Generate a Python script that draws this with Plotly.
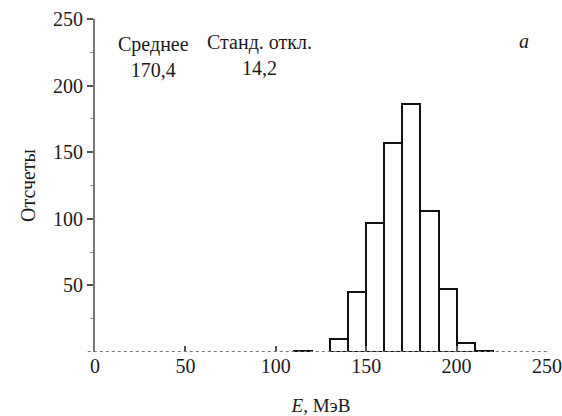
import plotly.graph_objects as go

bin_left = [110, 130, 140, 150, 160, 170, 180, 190, 200, 210]
counts = [1, 10, 45, 97, 157, 186, 106, 47, 7, 1]
bin_width = 10
x_ticks = [0, 50, 100, 150, 200, 250]
y_ticks = [50, 100, 150, 200, 250]

centers = [b + bin_width / 2 for b in bin_left]
FONT = "Times New Roman"
FS = 20
TXT = "#1a1a1a"

fig = go.Figure()
fig.add_trace(go.Bar(
    x=centers, y=counts, width=bin_width,
    marker=dict(color="white", line=dict(color="#111111", width=2)),
    showlegend=False, hoverinfo="skip",
))

fig.update_layout(
    width=562, height=416,
    margin=dict(l=95, r=15, t=19, b=64, autoexpand=False),
    paper_bgcolor="white", plot_bgcolor="white",
    font=dict(family=FONT, size=FS, color=TXT),
    bargap=0,
    xaxis=dict(
        range=[0, 250], tickvals=x_ticks, ticks="inside", ticklen=6,
        tickcolor="#555555", tickwidth=1.5, showline=False, showgrid=False,
        zeroline=False, tickfont=dict(family=FONT, size=FS, color=TXT), automargin=False,
        title=dict(text="<i>E</i>, МэВ", font=dict(family=FONT, size=19, color=TXT), standoff=25),
    ),
    yaxis=dict(
        range=[0, 250], tickvals=y_ticks, ticks="outside", ticklen=6,
        tickcolor="#555555", tickwidth=1.5, showline=True, linecolor="#777777",
        linewidth=2, showgrid=False, zeroline=False, automargin=False,
        minor=dict(tickvals=[25, 75, 125, 175, 225], ticks="outside", ticklen=3,
                   tickcolor="#888888", tickwidth=1),
        tickfont=dict(family=FONT, size=FS, color=TXT),
        title=dict(text="Отсчеты", font=dict(family=FONT, size=FS, color=TXT), standoff=12),
    ),
)

# dashed x baseline
fig.add_shape(type="line", xref="paper", yref="y", x0=-0.016, x1=1.0, y0=0, y1=0,
              line=dict(color="#777777", width=2, dash="dot"), layer="above")

fig.add_annotation(text="Среднее<br>170,4", x=0.13, xref="paper", y=0.885, yref="paper",
                   showarrow=False, font=dict(family=FONT, size=FS, color=TXT),
                   xanchor="center", yanchor="middle")
fig.add_annotation(text="Станд. откл.<br>14,2", x=0.365, xref="paper", y=0.892, yref="paper",
                   showarrow=False, font=dict(family=FONT, size=FS, color=TXT),
                   xanchor="center", yanchor="middle")
fig.add_annotation(text="<i>a</i>", x=0.95, xref="paper", y=0.933, yref="paper",
                   showarrow=False, font=dict(family=FONT, size=FS, color=TXT),
                   xanchor="center", yanchor="middle")

fig.write_html("out.html")
